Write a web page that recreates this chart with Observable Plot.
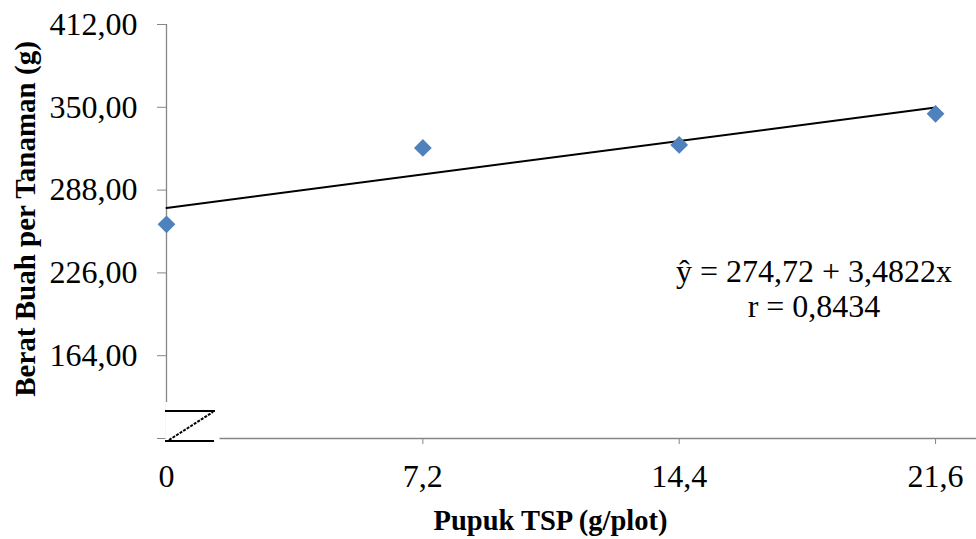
<!DOCTYPE html>
<html>
<head>
<meta charset="utf-8">
<script src="https://cdn.jsdelivr.net/npm/d3@7"></script>
<script src="https://cdn.jsdelivr.net/npm/@observablehq/plot@0.6"></script>
<style>
  html, body { margin: 0; padding: 0; background: #fff; }
  #chart { width: 976px; height: 539px; }
</style>
</head>
<body>
<div id="chart"></div>
<script>
// ---- data ----
const xValues = [0, 7.2, 14.4, 21.6];
const yValues = [262.4, 319.6, 321.8, 345.1];
const xTicks = [0, 7.2, 14.4, 21.6];
const yTicks = [102, 164, 226, 288, 350, 412];
const xTitle = "Pupuk TSP (g/plot)";
const yTitle = "Berat Buah per Tanaman (g)";
const equationLines = ["ŷ = 274,72 + 3,4822x", "r = 0,8434"];

const data = xValues.map((x, i) => ({x, y: yValues[i]}));
const font = "'Liberation Serif', 'Times New Roman', Times, serif";
const axisGray = "#868686";

const plot = Plot.plot({
  width: 976,
  height: 539,
  marginLeft: 166,
  marginRight: 0,
  marginTop: 24,
  marginBottom: 101,
  style: {fontFamily: font, fontSize: "32px", color: "black", background: "white"},
  x: {domain: [0, 22.75]},
  y: {domain: [102, 412]},
  marks: [
    Plot.ruleX([0], {stroke: axisGray, strokeWidth: 1.3}),
    Plot.ruleY([102], {stroke: axisGray, strokeWidth: 1.3}),
    Plot.axisY({
      ticks: yTicks,
      tickSize: 9,
      tickPadding: 20,
      stroke: axisGray,
      fill: "black",
      fontSize: 32,
      label: null,
      tickFormat: d => d === 102 ? "" : d.toFixed(2).replace(".", ",")
    }),
    Plot.axisX({
      ticks: xTicks,
      tickSize: 6,
      tickPadding: 20,
      stroke: axisGray,
      fill: "black",
      fontSize: 32,
      label: null,
      tickFormat: d => String(d).replace(".", ",")
    }),
    Plot.linearRegressionY(data, {x: "x", y: "y", stroke: "black", strokeWidth: 2, ci: 0}),
    Plot.dot(data, {x: "x", y: "y", symbol: "diamond2", r: 8, fill: "#4F81BD", stroke: "none"})
  ]
});

document.getElementById("chart").appendChild(plot);

// ---- decorations: axis break, titles, equation ----
const svg = d3.select(plot);
const sx = plot.scale("x"), sy = plot.scale("y");
const x0 = sx.apply(0), yb = sy.apply(102);

const brk = svg.append("g");
brk.append("rect").attr("x", x0 - 0.5).attr("y", yb - 36).attr("width", 54).attr("height", 44).attr("fill", "white");
brk.append("line").attr("x1", x0 - 1).attr("x2", x0 + 49).attr("y1", yb - 27).attr("y2", yb - 27)
  .attr("stroke", "black").attr("stroke-width", 2);
brk.append("line").attr("x1", x0 - 1).attr("x2", x0 + 48).attr("y1", yb + 3).attr("y2", yb + 3)
  .attr("stroke", "black").attr("stroke-width", 2);
brk.append("line").attr("x1", x0 + 3).attr("x2", x0 + 47).attr("y1", yb + 2).attr("y2", yb - 26)
  .attr("stroke", "black").attr("stroke-width", 2).attr("stroke-dasharray", "3,1.2");

const xMid = sx.apply(d3.mean([xTicks[0], xTicks[xTicks.length - 1]]));
svg.append("text").attr("x", xMid).attr("y", 530)
  .attr("text-anchor", "middle").attr("font-family", font).attr("font-size", 28.5)
  .attr("font-weight", "bold").attr("fill", "black").text(xTitle);

svg.append("text").attr("transform", `translate(35,219) rotate(-90)`)
  .attr("text-anchor", "middle").attr("font-family", font).attr("font-size", 29)
  .attr("font-weight", "bold").attr("fill", "black").text(yTitle);

equationLines.forEach((t, i) => {
  svg.append("text").attr("x", 814).attr("y", 282 + i * 35)
    .attr("text-anchor", "middle").attr("font-family", font).attr("font-size", 32)
    .attr("fill", "black").text(t);
});
</script>
</body>
</html>
